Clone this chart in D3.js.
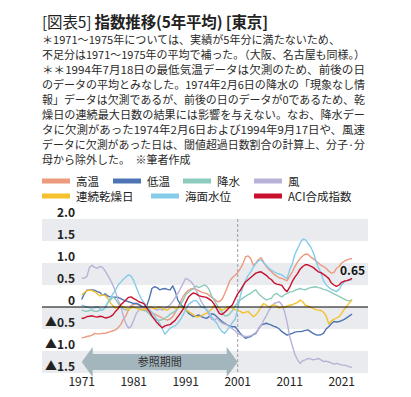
<!DOCTYPE html>
<html>
<head>
<meta charset="utf-8">
<script src="https://cdn.jsdelivr.net/npm/d3@7"></script>
<style>
  body { margin: 0; background: #fff; }
  text { font-family: "Noto Sans CJK JP", "Noto Sans", sans-serif; }
</style>
</head>
<body>
<div id="chart"></div>
<script>
// half-year steps, 1971.0 .. 2023.0
const years = d3.range(1971, 2023.01, 0.5);

const highTemp = [
  -0.7, -0.69, -0.67, -0.66, -0.64, -0.6, -0.61, -0.61, -0.6, -0.6,
  -0.58, -0.56, -0.54, -0.52, -0.47, -0.4, -0.28, -0.2, -0.07, 0.03,
  0.06, 0.08, 0.04, 0.0, -0.04, -0.07, -0.1, -0.13, -0.16, -0.19,
  -0.22, -0.25, -0.28, -0.3, -0.27, -0.22, -0.12, -0.02, 0.12, 0.24,
  0.32, 0.38, 0.41, 0.42, 0.4, 0.37, 0.34, 0.32, 0.31, 0.27,
  0.22, 0.18, 0.13, 0.12, 0.18, 0.3, 0.45, 0.6, 0.67, 0.72,
  0.78, 0.87, 0.98, 1.14, 1.16, 1.1, 0.95, 1.0, 1.08, 1.12,
  1.02, 0.92, 0.85, 0.8, 0.74, 0.7, 0.66, 0.65, 0.62, 0.6,
  0.7, 0.8, 0.92, 1.02, 1.1, 1.16, 1.2, 1.2, 1.14, 1.1,
  1.05, 1.0, 0.95, 0.92, 0.88, 0.82, 0.77, 0.78, 0.88, 0.92,
  1.0, 1.04, 1.07, 1.09, 1.1
];
const lowTemp = [
  0.17, 0.3, 0.38, 0.39, 0.39, 0.38, 0.35, 0.33, 0.27, 0.3,
  0.25, 0.23, 0.22, 0.22, 0.22, 0.19, 0.16, 0.14, 0.12, 0.1,
  0.08, 0.08, 0.06, 0.02, 0.0, 0.02, 0.2, 0.42, 0.46, 0.44,
  0.39, 0.41, 0.42, 0.4, 0.39, 0.48, 0.35, 0.15, 0.06, 0.0,
  -0.05, -0.14, -0.18, -0.22, -0.2, -0.18, -0.22, -0.24, -0.26, -0.22,
  -0.15, -0.17, -0.22, -0.28, -0.33, -0.37, -0.41, -0.43, -0.45, -0.45,
  -0.52, -0.6, -0.66, -0.71, -0.69, -0.67, -0.63, -0.6, -0.5, -0.41,
  -0.39, -0.37, -0.39, -0.41, -0.44, -0.46, -0.5, -0.56, -0.6, -0.64,
  -0.62, -0.6, -0.57, -0.56, -0.56, -0.55, -0.53, -0.52, -0.56, -0.6,
  -0.63, -0.64, -0.63, -0.6, -0.5, -0.45, -0.38, -0.33, -0.34, -0.33,
  -0.31, -0.28, -0.24, -0.2, -0.16
];
const rain = [
  -0.07, -0.09, -0.1, -0.08, -0.07, -0.1, -0.1, -0.07, -0.07, -0.02,
  0.1, 0.15, 0.23, 0.18, 0.08, 0.0, -0.04, -0.07, -0.05, -0.01,
  0.0, -0.03, -0.03, -0.06, -0.08, -0.1, -0.16, -0.22, -0.27, -0.3,
  -0.3, -0.29, -0.25, -0.22, -0.16, -0.13, -0.09, -0.03, 0.05, 0.15,
  0.28, 0.33, 0.38, 0.42, 0.48, 0.44, 0.47, 0.5, 0.48, 0.4,
  0.25, 0.15, 0.05, -0.05, -0.12, -0.2, -0.2, -0.15, -0.08, 0.02,
  0.1, 0.16, 0.2, 0.24, 0.28, 0.31, 0.36, 0.39, 0.3, 0.25,
  0.2, 0.16, 0.18, 0.2, 0.28, 0.31, 0.26, 0.23, 0.28, 0.31,
  0.34, 0.35, 0.38, 0.4, 0.42, 0.4, 0.39, 0.42, 0.44, 0.45,
  0.46, 0.44, 0.43, 0.4, 0.39, 0.36, 0.33, 0.3, 0.27, 0.24,
  0.21, 0.18, 0.15, 0.14, 0.16
];
const wind = [
  0.65, 0.66, 0.69, 0.9, 0.95, 0.9, 0.88, 0.92, 0.9, 0.82,
  0.72, 0.62, 0.5, 0.35, 0.16, 0.02, -0.2, -0.38, -0.48, -0.44,
  -0.3, -0.15, -0.07, -0.02, 0.0, -0.04, -0.02, 0.0, -0.03, -0.07,
  -0.05, -0.07, -0.04, 0.0, 0.05, 0.12, 0.22, 0.31, 0.42, 0.54,
  0.65, 0.62, 0.58, 0.5, 0.38, 0.25, 0.12, 0.03, -0.07, -0.18,
  -0.28, -0.3, -0.25, -0.32, -0.37, -0.39, -0.41, -0.45, -0.5, -0.54,
  -0.6, -0.63, -0.66, -0.67, -0.67, -0.65, -0.62, -0.58, -0.5, -0.42,
  -0.3, -0.2, -0.08, 0.02, 0.08, 0.1, 0.12, 0.05, -0.1, -0.35,
  -0.67, -0.88, -1.08, -1.2, -1.28, -1.22, -1.2, -1.17, -1.18, -1.2,
  -1.19, -1.17, -1.2, -1.24, -1.23, -1.25, -1.27, -1.3, -1.28, -1.3,
  -1.32, -1.32, -1.34, -1.36, -1.37
];
const dryDays = [
  0.27, 0.33, 0.37, 0.39, 0.37, 0.35, 0.3, 0.25, 0.28, 0.26,
  0.2, 0.1, 0.03, -0.03, 0.0, 0.04, 0.0, -0.02, -0.07, -0.02,
  0.0, -0.03, -0.05, -0.07, -0.04, -0.03, 0.0, -0.02, -0.04, -0.02,
  0.0, -0.03, -0.06, -0.07, -0.02, 0.0, -0.03, -0.02, 0.0, -0.02,
  -0.06, -0.1, -0.14, -0.18, -0.22, -0.22, -0.2, -0.17, -0.14, -0.1,
  -0.05, 0.04, 0.0, -0.03, -0.07, -0.05, 0.0, 0.0, -0.03, -0.06,
  -0.07, -0.1, -0.14, -0.12, -0.1, -0.16, -0.22, -0.18, -0.1, 0.0,
  0.08, 0.04, 0.0, 0.03, 0.05, 0.02, -0.03, 0.0, 0.0, 0.02,
  0.04, 0.05, 0.08, 0.1, 0.16, 0.12, 0.04, 0.02, 0.0, -0.03,
  -0.06, -0.07, -0.08, -0.12, -0.2, -0.38, -0.32, -0.28, -0.25, -0.22,
  -0.14, -0.05, 0.02, 0.1, 0.16
];
const seaLevel = [
  0.05, 0.02, 0.0, -0.02, -0.03, -0.01, 0.0, -0.03, -0.07, -0.02,
  0.1, 0.2, 0.3, 0.38, 0.5, 0.56, 0.63, 0.68, 0.73, 0.7,
  0.6, 0.45, 0.3, 0.18, 0.09, 0.02, -0.05, -0.12, -0.2, -0.28,
  -0.37, -0.5, -0.62, -0.55, -0.48, -0.45, -0.43, -0.36, -0.28, -0.18,
  -0.06, 0.05, 0.1, 0.14, 0.15, 0.08, 0.0, -0.02, -0.05, -0.12,
  -0.22, -0.3, -0.37, -0.48, -0.56, -0.6, -0.52, -0.45, -0.35, -0.28,
  -0.05, 0.25, 0.45, 0.6, 0.72, 0.8, 0.9, 0.99, 1.05, 1.07,
  1.0, 0.95, 0.88, 0.84, 0.8, 0.77, 0.75, 0.73, 0.68, 0.65,
  0.85, 0.98, 1.2, 1.32, 1.45, 1.54, 1.53, 1.45, 1.37, 1.25,
  1.07, 0.9, 0.78, 0.6, 0.5, 0.45, 0.4, 0.38, 0.35, 0.4,
  0.5, 0.57, 0.6, 0.61, 0.62
];
const aci = [
  -0.26, -0.25, -0.22, -0.21, -0.2, -0.22, -0.23, -0.21, -0.22, -0.25,
  -0.24, -0.22, -0.18, -0.1, -0.04, 0.05, 0.1, 0.16, 0.22, 0.23,
  0.19, 0.16, 0.12, 0.1, 0.07, -0.02, -0.1, -0.2, -0.28, -0.36,
  -0.42, -0.47, -0.43, -0.41, -0.4, -0.35, -0.3, -0.22, -0.14, -0.05,
  0.1, 0.22, 0.28, 0.32, 0.3, 0.26, 0.24, 0.23, 0.22, 0.18,
  0.14, 0.06, -0.05, -0.15, -0.17, -0.12, -0.06, 0.0, 0.05, 0.18,
  0.3, 0.38, 0.48, 0.57, 0.62, 0.67, 0.72, 0.77, 0.79, 0.8,
  0.76, 0.72, 0.66, 0.62, 0.55, 0.52, 0.51, 0.49, 0.4, 0.35,
  0.45, 0.58, 0.68, 0.76, 0.86, 0.92, 0.96, 0.96, 0.93, 0.9,
  0.85, 0.8, 0.78, 0.74, 0.7, 0.65, 0.55, 0.5, 0.47, 0.5,
  0.56, 0.59, 0.6, 0.62, 0.65
];

const seriesNames = ["高温", "低温", "降水", "風", "連続乾燥日", "海面水位", "ACI合成指数"];
const seriesColors = ["#eb9a7e", "#4e74b3", "#8ccbbb", "#b9b2d8", "#f3c22d", "#86cbe9", "#c8102e"];
const seriesValues = [highTemp, lowTemp, rain, wind, dryDays, seaLevel, aci];

const yTicks = [2.0, 1.5, 1.0, 0.5, 0, -0.5, -1.0, -1.5];
const xTicks = [1971, 1981, 1991, 2001, 2011, 2021];
const lastValue = 0.65;

const notes = [
  "＊1971～1975年については、実績が5年分に満たないため、",
  "不足分は1971～1975年の平均で補った。（大阪、名古屋も同様。）",
  "＊＊1994年7月18日の最低気温データは欠測のため、前後の日",
  "のデータの平均とみなした。1974年2月6日の降水の「現象なし情",
  "報」データは欠測であるが、前後の日のデータが0であるため、乾",
  "燥日の連続最大日数の結果には影響を与えない。なお、降水デー",
  "タに欠測があった1974年2月6日および1994年9月17日や、風速",
  "データに欠測があった日は、閾値超過日数割合の計算上、分子·分",
  "母から除外した。　※筆者作成"
];

const width = 411, height = 397;
const svg = d3.select("#chart").append("svg")
  .attr("width", width)
  .attr("height", height);

// title
const title = svg.append("text")
  .attr("x", 42)
  .attr("y", 27.5)
  .attr("font-size", 15.5)
  .attr("fill", "#222")
  .attr("textLength", 226)
  .attr("lengthAdjust", "spacing");
title.append("tspan").attr("font-weight", 400).text("[図表5] ");
title.append("tspan").attr("font-weight", 700).text("指数推移(5年平均) [東京]");

// notes
svg.append("g").selectAll("text")
  .data(notes)
  .join("text")
  .attr("x", 42)
  .attr("y", (d, i) => 44 + i * 15)
  .attr("font-size", 11)
  .attr("fill", "#2a2a2a")
  .attr("textLength", (d, i) => i === 0 ? 298 : (i === notes.length - 1 ? null : 323))
  .attr("lengthAdjust", "spacingAndGlyphs")
  .text(d => d);

// legend
const legendPos = [[42, 181], [113, 181], [183, 181], [254, 181], [42, 196], [151, 196], [254, 196]];
const legend = svg.append("g");
seriesNames.forEach((name, i) => {
  const [lx, ly] = legendPos[i];
  legend.append("rect")
    .attr("x", lx).attr("y", ly - 2.5)
    .attr("width", 28).attr("height", 5)
    .attr("fill", seriesColors[i]);
  legend.append("text")
    .attr("x", lx + 34).attr("y", ly + 4.5)
    .attr("font-size", 11.5)
    .attr("fill", "#222")
    .text(name);
});

// scales
const x = d3.scaleLinear().domain([1971, 2021]).range([81.7, 341.7]);
const y = d3.scaleLinear().domain([-1.5, 2]).range([373, 219]);
const plotLeft = 42, plotRight = 368;

// bands
const bands = [[2.0, 1.5], [1.0, 0.5], [0, -0.5], [-1.0, -1.5]];
svg.append("g").selectAll("rect")
  .data(bands)
  .join("rect")
  .attr("x", plotLeft)
  .attr("width", plotRight - plotLeft)
  .attr("y", d => y(d[0]))
  .attr("height", d => y(d[1]) - y(d[0]))
  .attr("fill", "#e9ebee");

// reference period arrow
const arrowY = y(-1.25);
const ax0 = x(1971), ax1 = x(2001);
svg.append("path")
  .attr("d", `M${ax0},${arrowY} L${ax0 + 11},${arrowY - 15} L${ax0 + 11},${arrowY - 8} L${ax1 - 11},${arrowY - 8} L${ax1 - 11},${arrowY - 15} L${ax1},${arrowY} L${ax1 - 11},${arrowY + 15} L${ax1 - 11},${arrowY + 8} L${ax0 + 11},${arrowY + 8} L${ax0 + 11},${arrowY + 15} Z`)
  .attr("fill", "#a4b6bd");
svg.append("text")
  .attr("x", x(1986))
  .attr("y", arrowY + 4)
  .attr("text-anchor", "middle")
  .attr("font-size", 11)
  .attr("fill", "#333")
  .text("参照期間");

// y labels
svg.append("g").selectAll("text")
  .data(yTicks)
  .join("text")
  .attr("x", 75)
  .attr("y", d => y(d) - 2.5)
  .attr("text-anchor", "end")
  .attr("font-size", 12)
  .attr("font-weight", 700)
  .attr("fill", "#222")
  .text(d => d === 0 ? "0" : (d < 0 ? "▲" + d3.format(".1f")(-d) : d3.format(".1f")(d)));

// x labels
svg.append("g").selectAll("text")
  .data(xTicks)
  .join("text")
  .attr("x", d => x(d))
  .attr("y", 386)
  .attr("text-anchor", "middle")
  .attr("font-size", 12)
  .attr("fill", "#222")
  .text(d => d);

// 2001 divider
svg.append("line")
  .attr("x1", x(2001)).attr("x2", x(2001))
  .attr("y1", y(2)).attr("y2", y(-1.5))
  .attr("stroke", "#888")
  .attr("stroke-width", 0.8)
  .attr("stroke-dasharray", "3,2");

// lines
const line = d3.line()
  .x((d, i) => x(years[i]))
  .y(d => y(d));

svg.append("g").selectAll("path")
  .data(seriesValues)
  .join("path")
  .attr("d", d => line(d))
  .attr("fill", "none")
  .attr("stroke", (d, i) => seriesColors[i])
  .attr("stroke-width", 1.4)
  .attr("stroke-linejoin", "round");

// zero line
svg.append("line")
  .attr("x1", plotLeft).attr("x2", plotRight)
  .attr("y1", y(0)).attr("y2", y(0))
  .attr("stroke", "#000")
  .attr("stroke-width", 1);

// final value label
svg.append("text")
  .attr("x", 340)
  .attr("y", y(lastValue) - 3)
  .attr("font-size", 12)
  .attr("font-weight", 700)
  .attr("fill", "#111")
  .text(d3.format(".2f")(lastValue));
</script>
</body>
</html>
